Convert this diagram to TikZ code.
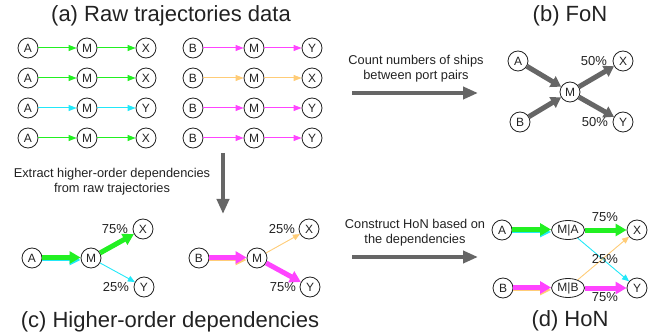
\documentclass[tikz,border=0pt]{standalone}
\usepackage{fontspec}
\setmainfont{Liberation Sans}
\usetikzlibrary{arrows.meta,shapes.geometric}
\definecolor{cgreen}{HTML}{22F022}
\definecolor{ccyan}{HTML}{22E8F8}
\definecolor{cmag}{HTML}{FF44FF}
\definecolor{corange}{HTML}{FFCC77}
\definecolor{cgrey}{HTML}{666666}
\definecolor{ctext}{HTML}{222222}
\begin{document}
\begin{tikzpicture}[x=1pt,y=-1pt,
  port/.style={circle,draw=ctext,line width=0.8pt,minimum size=20pt,inner sep=0pt,text=ctext,font=\fontsize{12}{13}\selectfont},
  hport/.style={ellipse,draw=ctext,line width=0.8pt,minimum width=33pt,minimum height=19pt,inner sep=0pt,text=ctext,font=\fontsize{12}{13}\selectfont},
  ttl/.style={anchor=base,text=ctext,font=\fontsize{22}{26}\selectfont},
  note/.style={align=center,text=ctext,font=\fontsize{12.8}{14.8}\selectfont},
  pct/.style={text=ctext,font=\fontsize{13}{14}\selectfont,inner sep=0pt},
  thinarr/.style={line width=1pt,-{Triangle[length=8pt,width=6pt]}},
  lightarr/.style={line width=0.9pt,-{Triangle[length=7pt,width=6pt]}},
  thickarr/.style={line width=5pt,-{Triangle[length=11pt,width=12pt]}},
  striparr/.style={line width=2.5pt,-{Triangle[length=11pt,width=10pt]}},
  bigarr/.style={cgrey,line width=4pt,-{Triangle[length=15pt,width=12pt]}},
  fonarr/.style={cgrey,line width=5pt,-{Triangle[length=10pt,width=12pt]}}]
\useasboundingbox (0,0) rectangle (667,334);

% titles
\node[ttl] (ta) at (171,22) {(a) Raw trajectories data};
\node[ttl] (tb) at (570,22) {(b) FoN};
\node[ttl] (tc) at (170,327) {(c) Higher-order dependencies};
\node[ttl] (td) at (570,326) {(d) HoN};

% (a) raw trajectories
\foreach \r/\y/\c/\e in {1/48/cgreen/X,2/78/cgreen/X,3/108/ccyan/Y,4/138/cgreen/X}{
  \node[port] (aA\r) at (28,\y) {A};
  \node[port] (aM\r) at (87,\y) {M};
  \node[port] (aE\r) at (146,\y) {\e};
  \draw[thinarr,\c] (aA\r) -- (aM\r);
  \draw[thinarr,\c] (aM\r) -- (aE\r);
}
\foreach \r/\y/\c/\e in {1/48/cmag/Y,2/78/corange/X,3/108/cmag/Y,4/138/cmag/Y}{
  \node[port] (aB\r) at (193,\y) {B};
  \node[port] (aN\r) at (254,\y) {M};
  \node[port] (aF\r) at (312,\y) {\e};
  \draw[thinarr,\c] (aB\r) -- (aN\r);
  \draw[thinarr,\c] (aN\r) -- (aF\r);
}

% (b) FoN
\node[port] (bA) at (518,61) {A};
\node[port] (bB) at (520,122) {B};
\node[port] (bM) at (570,92) {M};
\node[port] (bX) at (623,61) {X};
\node[port] (bY) at (623,122) {Y};
\draw[fonarr] (bA) -- (bM);
\draw[fonarr] (bB) -- (bM);
\draw[fonarr] (bM) -- (bX);
\draw[fonarr] (bM) -- (bY);
\node[pct] (bpx) at (594,61) {50\%};
\node[pct] (bpy) at (595,122) {50\%};

% process arrows
\node[note] (n1) at (416,68.5) {Count numbers of ships\\between port pairs};
\coordinate (s1) at (352,93);
\coordinate (e1) at (478,93);
\draw[bigarr] (s1) -- (e1);

\node[note] (n2) at (112,181.5) {Extract higher-order dependencies\\from raw trajectories};
\coordinate (s2) at (223,153);
\coordinate (e2) at (223,214);
\draw[bigarr] (s2) -- (e2);

\node[note] (n3) at (415,233) {Construct HoN based on\\the dependencies};
\coordinate (s3) at (352,257);
\coordinate (e3) at (478,257);
\draw[bigarr] (s3) -- (e3);

% (c) higher-order dependencies
\node[port] (cA) at (32,258) {A};
\node[port] (cM) at (91,258) {M};
\node[port] (cX) at (143,229) {X};
\node[port] (cY) at (144,287) {Y};
\draw[striparr,ccyan] ([yshift=-2pt]cA.east) -- ([yshift=-2pt]cM.west);
\draw[thickarr,cgreen] ([yshift=0.5pt]cA.east) -- ([yshift=0.5pt]cM.west);
\draw[thickarr,cgreen] (cM) -- (cX);
\draw[lightarr,ccyan] (cM) -- (cY);
\node[pct] (cp1) at (115,229) {75\%};
\node[pct] (cp2) at (116,287) {25\%};

\node[port] (cB) at (199,258) {B};
\node[port] (cN) at (257,258) {M};
\node[port] (cX2) at (309,229) {X};
\node[port] (cY2) at (310,287) {Y};
\draw[striparr,corange] ([yshift=-2pt]cB.east) -- ([yshift=-2pt]cN.west);
\draw[thickarr,cmag] ([yshift=0.5pt]cB.east) -- ([yshift=0.5pt]cN.west);
\draw[lightarr,corange] (cN) -- (cX2);
\draw[thickarr,cmag] (cN) -- (cY2);
\node[pct] (cp3) at (282,229) {25\%};
\node[pct] (cp4) at (283,287) {75\%};

% (d) HoN
\node[port] (dA) at (502,230) {A};
\node[hport] (dMA) at (568,230) {M|A};
\node[port] (dX) at (637,230) {X};
\node[port] (dB) at (503,288) {B};
\node[hport] (dMB) at (568,288) {M|B};
\node[port] (dY) at (637,288) {Y};
\draw[striparr,ccyan] ([yshift=-2pt]dA.east) -- ([yshift=-2pt]dMA.west);
\draw[thickarr,cgreen] ([yshift=0.5pt]dA.east) -- ([yshift=0.5pt]dMA.west);
\draw[thickarr,cgreen] (dMA) -- (dX);
\draw[lightarr,ccyan] (dMA) -- (dY);
\draw[striparr,corange] ([yshift=-2pt]dB.east) -- ([yshift=-2pt]dMB.west);
\draw[thickarr,cmag] ([yshift=0.5pt]dB.east) -- ([yshift=0.5pt]dMB.west);
\draw[lightarr,corange] (dMB) -- (dX);
\draw[thickarr,cmag] (dMB) -- (dY);
\node[pct] (dp1) at (605,217) {75\%};
\node[pct] (dp2) at (605,259) {25\%};
\node[pct] (dp3) at (605,297) {75\%};
\end{tikzpicture}
\end{document}
